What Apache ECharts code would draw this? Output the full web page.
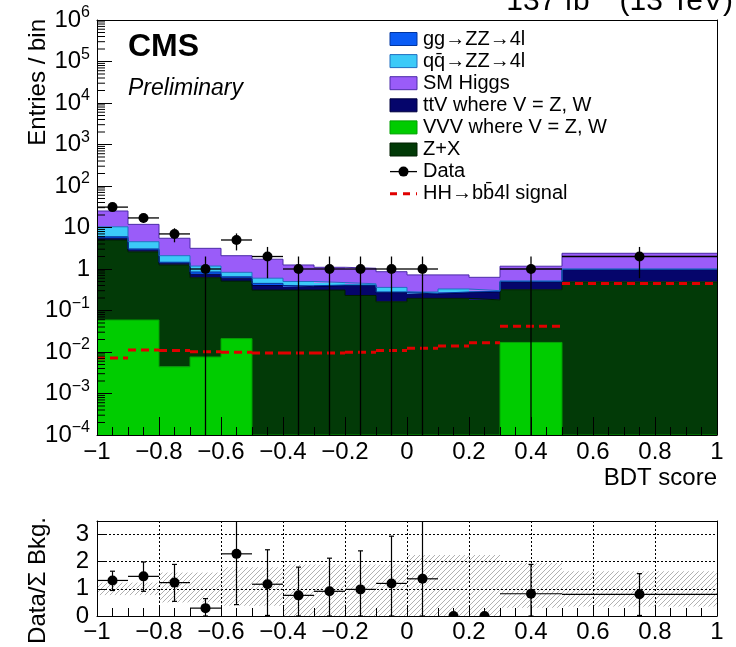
<!DOCTYPE html>
<html>
<head>
<meta charset="utf-8">
<script src="https://cdn.jsdelivr.net/npm/echarts@6/dist/echarts.min.js"></script>
<style>
  html, body { margin: 0; padding: 0; background: #ffffff; }
  #chart { width: 736px; height: 647px; }
</style>
</head>
<body>
<div id="chart"></div>
<script>
// BDT score binning (13 bins of 0.1, then two wide bins)
const binEdges = [-1, -0.9, -0.8, -0.7, -0.6, -0.5, -0.4, -0.3, -0.2, -0.1, 0, 0.1, 0.2, 0.3, 0.5, 1];

// Expected background yields per bin, stacked bottom to top
const vvvYield   = [0.059, 0.059, 0.0044, 0.0076, 0.021, 0, 0, 0, 0, 0, 0, 0, 0, 0.017, 0];
const zxYield    = [4.94, 2.54, 1.25, 0.61, 0.49, 0.31, 0.31, 0.31, 0.23, 0.163, 0.196, 0.196, 0.18, 0.30, 0.49];
const ttvYield   = [0.5, 0.25, 0.13, 0.125, 0.09, 0.09, 0.065, 0.09, 0.17, 0.107, 0.054, 0.074, 0.10, 0.17, 0.48];
const ggzzYield  = [0.5, 0.2, 0.07, 0.105, 0.05, 0.05, 0.02, 0.01, 0.01, 0.01, 0.01, 0.01, 0.01, 0.01, 0.015];
const qqzzYield  = [4.4, 1.5, 0.64, 0.33, 0.18, 0.15, 0.105, 0.06, 0.03, 0.08, 0.02, 0.05, 0.01, 0.02, 0.015];
const higgsYield = [14.6, 7.35, 3.41, 1.97, 1.26, 1.12, 0.75, 0.63, 0.60, 0.50, 0.44, 0.39, 0.33, 0.65, 1.39];

// Observed events and their uncertainties
const dataCounts = [31, 17, 7, 1, 5, 2, 1, 1, 1, 1, 1, 0, 0, 1, 2];
const dataErr    = [5.6, 4.1, 2.6, 1, 2.2, 1.4, 1, 1, 1, 1, 1, 0, 0, 1, 1.4];

// HH -> bb4l signal expectation
const signalYield = [0.0072, 0.0112, 0.0108, 0.0101, 0.0099, 0.0094, 0.0094, 0.0094, 0.0099, 0.0108, 0.0123, 0.014, 0.0168, 0.042, 0.45];

// Ratio panel: data / total background, with error bar ends
const ratioVal = [1.31, 1.46, 1.23, 0.29, 2.29, 1.17, 0.76, 0.91, 0.98, 1.20, 1.37, 0, 0, 0.82, 0.80];
const ratioHi  = [1.65, 1.99, 1.90, 0.64, 4.0, 2.44, 1.80, 2.13, 2.40, 2.94, 4.5, 0, 0, 1.90, 1.56];
const ratioLo  = [0.94, 0.91, 0.54, 0.0, 0.42, 0.02, 0.0, 0.0, 0.0, 0.0, 0.0, 0, 0, 0.0, 0.02];
// Background uncertainty band (relative)
const bandLo = [0.77, 0.77, 0.5, 0.5, 0.38, 0.38, 0, 0, 0, 0, 0, 0, 0, 0.3, 0.35];
const bandHi = [1.23, 1.23, 1.6, 1.6, 1.8, 1.8, 1.9, 1.9, 1.9, 1.9, 2.25, 2.25, 2.25, 1.95, 1.65];

// Tick labels
const xTickMin = -1, xTickMax = 1, xTickStep = 0.2;
const ratioTicks = [0, 1, 2, 3];

const FONT = '"Liberation Sans", Arial, Helvetica, sans-serif';
const FLOOR = 1e-4, CEIL = 1e6;
const nb = binEdges.length - 1;

const layers = [
  { name: 'VVV where V = Z, W', values: vvvYield,   fill: '#00cc00', stroke: '#00a000' },
  { name: 'Z+X',                values: zxYield,    fill: '#023a07', stroke: '#001f00' },
  { name: 'ttV where V = Z, W', values: ttvYield,   fill: '#05056b', stroke: '#00003f' },
  { name: 'gg\u2192ZZ\u21924l', values: ggzzYield,  fill: '#0a5cf5', stroke: '#0035a0' },
  { name: 'qq\u0304\u2192ZZ\u21924l', values: qqzzYield, fill: '#3ccaf8', stroke: '#1f6fc0' },
  { name: 'SM Higgs',           values: higgsYield, fill: '#9a5cf9', stroke: '#4b2aa8' }
];

const series = [];
const base = new Array(nb).fill(0);

layers.forEach(function (L) {
  const rows = [], steps = [];
  for (let i = 0; i < nb; i++) {
    const lo = base[i], hi = base[i] + L.values[i];
    rows.push([binEdges[i], binEdges[i + 1], Math.max(lo, FLOOR), Math.max(hi, FLOOR)]);
    steps.push([binEdges[i], Math.max(hi, FLOOR)]);
    base[i] = hi;
  }
  steps.push([binEdges[nb], steps[nb - 1][1]]);
  series.push({
    type: 'custom', name: L.name, xAxisIndex: 0, yAxisIndex: 0, clip: true, z: 2,
    encode: { x: [0, 1], y: [2, 3] },
    data: rows,
    renderItem: function (params, api) {
      const lo = api.value(2), hi = api.value(3);
      if (!(hi > lo)) return null;
      const a = api.coord([api.value(0), hi]);
      const b = api.coord([api.value(1), lo]);
      return { type: 'rect', shape: { x: a[0], y: a[1], width: b[0] - a[0], height: b[1] - a[1] },
               style: { fill: L.fill } };
    }
  });
  series.push({
    type: 'line', xAxisIndex: 0, yAxisIndex: 0, step: 'end', data: steps, symbol: 'none',
    clip: true, z: 3, silent: true,
    lineStyle: { color: L.stroke, width: 1 }
  });
});

// signal: dashed horizontal per bin
series.push({
  type: 'custom', xAxisIndex: 0, yAxisIndex: 0, clip: true, z: 5,
  encode: { x: [0, 1], y: 2 },
  data: signalYield.map(function (v, i) { return [binEdges[i], binEdges[i + 1], v]; }),
  renderItem: function (params, api) {
    const a = api.coord([api.value(0), api.value(2)]);
    const b = api.coord([api.value(1), api.value(2)]);
    return { type: 'line', shape: { x1: a[0], y1: a[1], x2: b[0], y2: b[1] },
             style: { stroke: '#e00000', lineWidth: 3, lineDash: [8, 5] } };
  }
});

// observed data with error bars
const dataRows = [];
dataCounts.forEach(function (n, i) {
  if (n > 0) dataRows.push([binEdges[i], binEdges[i + 1], n, dataErr[i]]);
});
series.push({
  type: 'custom', xAxisIndex: 0, yAxisIndex: 0, clip: true, z: 6,
  encode: { x: [0, 1], y: 2 },
  data: dataRows,
  renderItem: function (params, api) {
    const x0 = api.value(0), x1 = api.value(1), n = api.value(2), e = api.value(3);
    const xc = (x0 + x1) / 2;
    const c = api.coord([xc, n]), l = api.coord([x0, n]), r = api.coord([x1, n]);
    const t = api.coord([xc, n + e]), d = api.coord([xc, Math.max(n - e, FLOOR)]);
    return { type: 'group', children: [
      { type: 'line', shape: { x1: l[0], y1: c[1], x2: r[0], y2: c[1] }, style: { stroke: '#000', lineWidth: 1.3 } },
      { type: 'line', shape: { x1: c[0], y1: t[1], x2: c[0], y2: d[1] }, style: { stroke: '#000', lineWidth: 1.3 } },
      { type: 'circle', shape: { cx: c[0], cy: c[1], r: 5 }, style: { fill: '#000' } }
    ] };
  }
});

// log-axis minor ticks (2..9 per decade) on the left edge
const minorVals = [];
for (let e = -4; e < 6; e++) for (let m = 2; m <= 9; m++) minorVals.push(m * Math.pow(10, e));
series.push({
  type: 'custom', xAxisIndex: 0, yAxisIndex: 0, z: 12, silent: true,
  encode: { x: 0, y: 1 },
  data: minorVals.map(function (v) { return [xTickMin, v]; }),
  renderItem: function (params, api) {
    const p = api.coord([api.value(0), api.value(1)]);
    return { type: 'line', shape: { x1: p[0], y1: p[1], x2: p[0] + 8, y2: p[1] }, style: { stroke: '#000', lineWidth: 1 } };
  }
});

// hatch pattern for the background uncertainty band
const hatch = document.createElement('canvas');
hatch.width = 5; hatch.height = 5;
(function () {
  const g = hatch.getContext('2d');
  g.strokeStyle = '#a8a8a8'; g.lineWidth = 0.9;
  g.beginPath();
  g.moveTo(0, 5); g.lineTo(5, 0);
  g.moveTo(-1, 1); g.lineTo(1, -1);
  g.moveTo(4, 6); g.lineTo(6, 4);
  g.stroke();
})();

series.push({
  type: 'custom', xAxisIndex: 2, yAxisIndex: 2, clip: true, z: 2,
  encode: { x: [0, 1], y: [2, 3] },
  data: bandLo.map(function (v, i) { return [binEdges[i], binEdges[i + 1], v, bandHi[i]]; }),
  renderItem: function (params, api) {
    const a = api.coord([api.value(0), api.value(3)]);
    const b = api.coord([api.value(1), api.value(2)]);
    return { type: 'rect', shape: { x: a[0], y: a[1], width: b[0] - a[0], height: b[1] - a[1] },
             style: { fill: { image: hatch, repeat: 'repeat' } } };
  }
});

// ratio points
series.push({
  type: 'custom', xAxisIndex: 2, yAxisIndex: 2, clip: true, z: 6,
  encode: { x: [0, 1], y: 2 },
  data: ratioVal.map(function (v, i) { return [binEdges[i], binEdges[i + 1], v, ratioLo[i], ratioHi[i], dataCounts[i]]; }),
  renderItem: function (params, api) {
    const x0 = api.value(0), x1 = api.value(1), v = api.value(2), lo = api.value(3), hi = api.value(4), n = api.value(5);
    const xc = (x0 + x1) / 2;
    const c = api.coord([xc, v]);
    const kids = [];
    if (n > 0) {
      const l = api.coord([x0, v]), r = api.coord([x1, v]);
      const t = api.coord([xc, hi]), d = api.coord([xc, lo]);
      kids.push({ type: 'line', shape: { x1: l[0], y1: c[1], x2: r[0], y2: c[1] }, style: { stroke: '#000', lineWidth: 1.2 } });
      kids.push({ type: 'line', shape: { x1: c[0], y1: t[1], x2: c[0], y2: d[1] }, style: { stroke: '#000', lineWidth: 1.2 } });
      kids.push({ type: 'line', shape: { x1: c[0] - 2.5, y1: t[1], x2: c[0] + 2.5, y2: t[1] }, style: { stroke: '#000', lineWidth: 1.2 } });
      kids.push({ type: 'line', shape: { x1: c[0] - 2.5, y1: d[1], x2: c[0] + 2.5, y2: d[1] }, style: { stroke: '#000', lineWidth: 1.2 } });
    }
    kids.push({ type: 'circle', shape: { cx: c[0], cy: c[1], r: 5 }, style: { fill: '#000' } });
    return { type: 'group', children: kids };
  }
});

function fmtX(v) {
  const r = Math.round(v * 10) / 10;
  if (r === 0) return '0';
  return (r < 0 ? '\u2212' : '') + Math.abs(r);
}
function fmtLog(v) {
  const e = Math.round(Math.log10(v));
  if (e === 0) return '1';
  if (e === 1) return '10';
  return '10{s|' + (e < 0 ? '\u2212' + (-e) : e) + '}';
}

const axisBlack = { onZero: false, lineStyle: { color: '#000', width: 1 } };
const frameAxis = function (extra) {
  return Object.assign({ show: true, z: 10, axisLine: axisBlack, axisTick: { show: false }, axisLabel: { show: false }, splitLine: { show: false } }, extra);
};

const option = {
  animation: false,
  backgroundColor: '#ffffff',
  grid: [
    { left: 97, top: 20, width: 620, height: 415, containLabel: false },
    { left: 97, top: 521, width: 620, height: 95, containLabel: false }
  ],
  xAxis: [
    { type: 'value', gridIndex: 0, min: xTickMin, max: xTickMax, interval: xTickStep, z: 10,
      axisLine: axisBlack, splitLine: { show: false },
      axisTick: { inside: true, length: 18, lineStyle: { color: '#000' } },
      minorTick: { show: true, splitNumber: 4, length: 8, lineStyle: { color: '#000' } },
      axisLabel: { margin: 5, fontSize: 24, color: '#000', fontFamily: FONT, formatter: fmtX } },
    frameAxis({ type: 'value', gridIndex: 0, position: 'top', min: xTickMin, max: xTickMax }),
    { type: 'value', gridIndex: 1, min: xTickMin, max: xTickMax, interval: xTickStep, z: 10,
      axisLine: axisBlack,
      splitLine: { show: true, lineStyle: { color: '#000', width: 1, type: [2, 2] } },
      axisTick: { inside: true, length: 9, lineStyle: { color: '#000' } },
      minorTick: { show: true, splitNumber: 4, length: 8, lineStyle: { color: '#000' } },
      axisLabel: { margin: 4, fontSize: 24, color: '#000', fontFamily: FONT, formatter: fmtX } },
    frameAxis({ type: 'value', gridIndex: 1, position: 'top', min: xTickMin, max: xTickMax })
  ],
  yAxis: [
    { type: 'log', gridIndex: 0, min: FLOOR, max: CEIL, logBase: 10, splitNumber: 10, z: 10,
      axisLine: axisBlack, splitLine: { show: false },
      axisTick: { inside: true, length: 15, lineStyle: { color: '#000' } },
      axisLabel: { margin: 7, fontSize: 24, color: '#000', fontFamily: FONT, formatter: fmtLog,
        rich: { s: { fontSize: 16, fontFamily: FONT, color: '#000', padding: [0, 0, 14, 0] } } } },
    frameAxis({ type: 'log', gridIndex: 0, position: 'right', min: FLOOR, max: CEIL, logBase: 10 }),
    { type: 'value', gridIndex: 1, min: 0, max: 3.5, interval: 1, z: 10,
      axisLine: axisBlack,
      splitLine: { show: true, lineStyle: { color: '#000', width: 1, type: [2, 2] } },
      axisTick: { inside: true, length: 9, lineStyle: { color: '#000' } },
      axisLabel: { margin: 8, fontSize: 24, color: '#000', fontFamily: FONT, showMaxLabel: false,
        formatter: function (v) { return ratioTicks.indexOf(v) >= 0 ? String(v) : ''; } } },
    frameAxis({ type: 'value', gridIndex: 1, position: 'right', min: 0, max: 3.5 })
  ],
  series: series,
  graphic: []
};

// annotation texts
const g = option.graphic;
g.push({ type: 'text', x: 733, y: 2, z: 20, style: { text: '137 fb{s|\u22121} (13 TeV)', align: 'right', verticalAlign: 'middle',
  font: '30px ' + FONT, fill: '#000', rich: { s: { fontSize: 19, fontFamily: FONT, padding: [0, 0, 14, 0] } } } });
g.push({ type: 'text', x: 128, y: 47, z: 20, style: { text: 'CMS', align: 'left', verticalAlign: 'middle', font: 'bold 32px ' + FONT, fill: '#000' } });
g.push({ type: 'text', x: 128, y: 89, z: 20, style: { text: 'Preliminary', align: 'left', verticalAlign: 'middle', font: 'italic 23px ' + FONT, fill: '#000' } });
g.push({ type: 'text', x: 717, y: 478, z: 20, style: { text: 'BDT score', align: 'right', verticalAlign: 'middle', font: '24px ' + FONT, fill: '#000' } });
g.push({ type: 'text', x: 38, y: 19, z: 20, rotation: Math.PI / 2, style: { text: 'Entries / bin', align: 'right', verticalAlign: 'middle', font: '24px ' + FONT, fill: '#000' } });
g.push({ type: 'text', x: 38, y: 517, z: 20, rotation: Math.PI / 2, style: { text: 'Data/\u03a3 Bkg.', align: 'right', verticalAlign: 'middle', font: '24px ' + FONT, fill: '#000' } });

// legend
const legendOrder = [3, 4, 5, 2, 0, 1];
const rowY0 = 39, rowStep = 22.1, swX = 390, swW = 27, swH = 13, txtX = 423;
legendOrder.forEach(function (li, k) {
  const y = rowY0 + k * rowStep;
  g.push({ type: 'rect', z: 20, shape: { x: swX, y: y - swH / 2, width: swW, height: swH },
    style: { fill: layers[li].fill, stroke: layers[li].stroke, lineWidth: 1 } });
  g.push({ type: 'text', x: txtX, y: y, z: 20, style: { text: layers[li].name, align: 'left', verticalAlign: 'middle', font: '20px ' + FONT, fill: '#000' } });
});
(function () {
  const yD = rowY0 + 6 * rowStep, yS = rowY0 + 7 * rowStep;
  g.push({ type: 'line', z: 20, shape: { x1: swX, y1: yD, x2: swX + swW, y2: yD }, style: { stroke: '#000', lineWidth: 1.3 } });
  g.push({ type: 'circle', z: 20, shape: { cx: swX + swW / 2, cy: yD, r: 5 }, style: { fill: '#000' } });
  g.push({ type: 'text', x: txtX, y: yD, z: 20, style: { text: 'Data', align: 'left', verticalAlign: 'middle', font: '20px ' + FONT, fill: '#000' } });
  g.push({ type: 'line', z: 20, shape: { x1: swX, y1: yS, x2: swX + swW, y2: yS }, style: { stroke: '#e00000', lineWidth: 3, lineDash: [7, 6] } });
  g.push({ type: 'text', x: txtX, y: yS, z: 20, style: { text: 'HH\u2192bb\u03044l signal', align: 'left', verticalAlign: 'middle', font: '20px ' + FONT, fill: '#000' } });
})();

const chart = echarts.init(document.getElementById('chart'), null, { renderer: 'canvas' });
chart.setOption(option);
</script>
</body>
</html>
